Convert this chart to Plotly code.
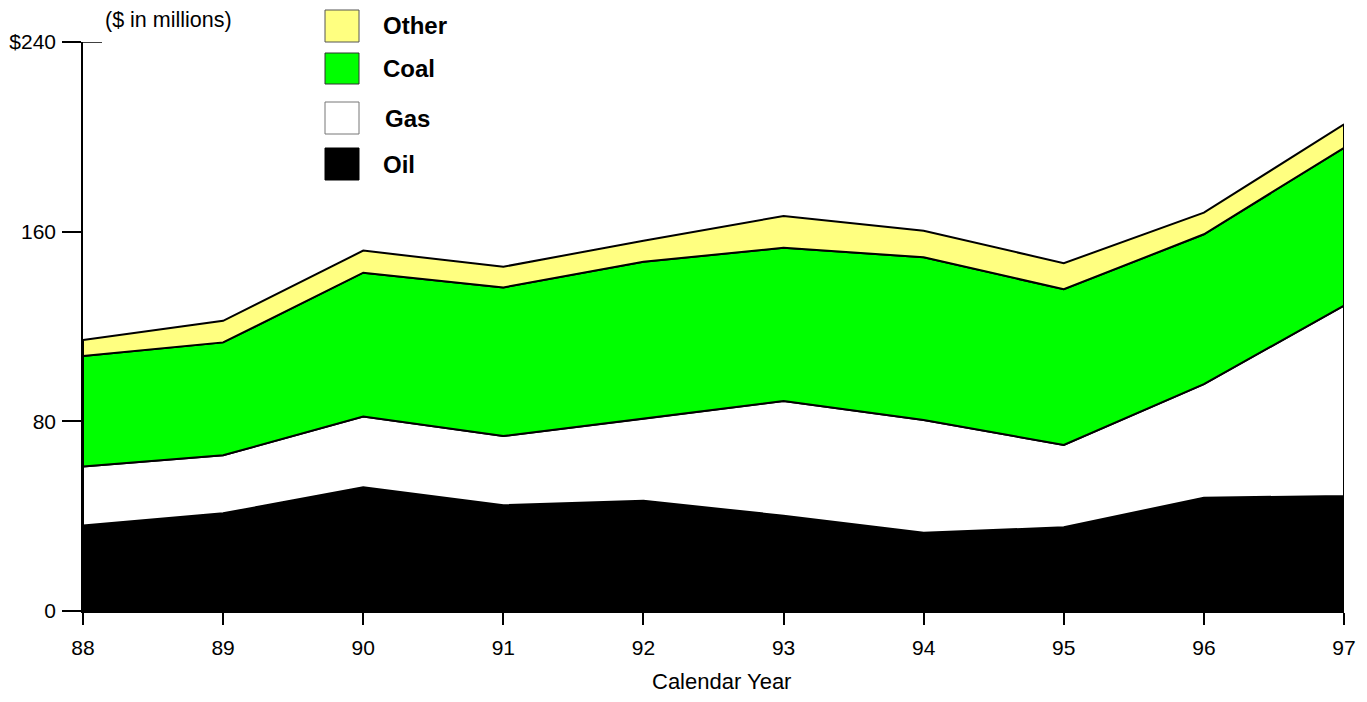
import plotly.graph_objects as go

years = [88, 89, 90, 91, 92, 93, 94, 95, 96, 97]
year_labels = ["88", "89", "90", "91", "92", "93", "94", "95", "96", "97"]
oil = [36.1, 41.2, 52.2, 44.6, 46.5, 40.2, 33.0, 35.3, 47.8, 48.5]
gas = [24.8, 24.5, 29.8, 29.2, 34.6, 48.4, 47.6, 34.7, 47.9, 80.3]
coal = [46.7, 47.6, 60.7, 62.7, 66.2, 64.6, 68.6, 65.7, 63.2, 66.6]
other = [6.7, 9.1, 9.3, 8.7, 8.9, 13.4, 11.2, 11.0, 9.1, 9.9]
y_ticks = [0, 80, 160, 240]
y_tick_text = ["0", "80", "160", "$240"]

series = [("Oil", oil, "#000000"), ("Gas", gas, "#FFFFFF"),
          ("Coal", coal, "#00FF00"), ("Other", other, "#FFFF80")]

# page is rendered with an 8px body margin
OFF = 8
W, H = 1367 - 2 * OFF, 702 - 2 * OFF
# plot area in page pixels
L, R, T, B = 83, 1344, 42, 611
def px(x):
    return (x - L) / (R - L)
def py(y):
    return (B - y) / (B - T)

FONT = "Arial, 'Liberation Sans', sans-serif"
fig = go.Figure()

base = [0.0] * len(years)
for name, vals, color in series:
    top = [b + v for b, v in zip(base, vals)]
    xs = years + years[::-1] + [years[0]]
    ys = top + base[::-1] + [top[0]]
    fig.add_trace(go.Scatter(x=xs, y=ys, mode="lines", fill="toself",
                             fillcolor=color, line=dict(color="black", width=2),
                             name=name, showlegend=False, hoverinfo="skip"))
    base = top

# legend (drawn manually to match the reference layout)
legend_items = [("Other", "#FFFF80", "#555555", 10, 42, 381),
                ("Coal", "#00FF00", "#333333", 53, 84, 381),
                ("Gas", "#FFFFFF", "#777777", 102, 134, 383),
                ("Oil", "#000000", "#000000", 148, 180, 381)]
for name, fc, lc, y0, y1, tx in legend_items:
    fig.add_shape(type="rect", xref="paper", yref="paper",
                  x0=px(325), x1=px(359), y0=py(y1), y1=py(y0),
                  fillcolor=fc, line=dict(color=lc, width=1))
    fig.add_annotation(xref="paper", yref="paper", x=px(tx), y=py((y0 + y1) / 2),
                       text="<b>" + name + "</b>", showarrow=False,
                       xanchor="left", yanchor="middle",
                       font=dict(family=FONT, size=24, color="black"))

# top tick crossing the axis
fig.add_shape(type="line", xref="paper", yref="y", x0=0, x1=px(102),
              y0=240, y1=240, line=dict(color="black", width=1.5))

fig.add_annotation(xref="paper", yref="paper", x=px(168), y=py(20),
                   text="($ in millions)", showarrow=False,
                   xanchor="center", yanchor="middle",
                   font=dict(family=FONT, size=21.5, color="black"))

# x-axis title
fig.add_annotation(xref="paper", yref="paper", x=px(721), y=py(681),
                   text="Calendar Year", showarrow=False,
                   xanchor="center", yanchor="middle",
                   font=dict(family=FONT, size=22, color="black"))

fig.update_xaxes(range=[88, 97], tickmode="array", tickvals=years, ticktext=year_labels,
                 automargin=False,
                 showgrid=False, zeroline=False, showline=True, linecolor="black",
                 linewidth=1.5, ticks="outside", ticklen=12, tickwidth=2, tickcolor="black",
                 ticklabelstandoff=5,
                 tickfont=dict(family=FONT, size=21, color="black"))
fig.update_yaxes(range=[0, 240], tickmode="array", tickvals=y_ticks, ticktext=y_tick_text,
                 automargin=False,
                 showgrid=False, zeroline=False, showline=True, linecolor="black",
                 linewidth=1.5, ticks="outside", ticklen=19, tickwidth=1.5, tickcolor="black",
                 ticklabelstandoff=2,
                 tickfont=dict(family=FONT, size=21, color="black"))

fig.update_layout(width=W, height=H,
                  margin=dict(l=L - OFF, r=W - (R - OFF), t=T - OFF, b=H - (B - OFF)),
                  plot_bgcolor="white", paper_bgcolor="white", showlegend=False)

fig.write_html("out.html")
